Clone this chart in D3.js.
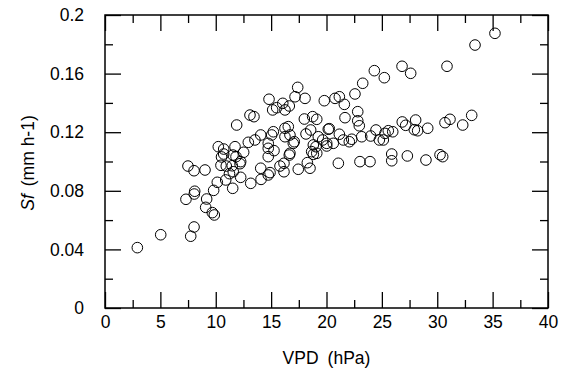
<!DOCTYPE html>
<html><head><meta charset="utf-8">
<script src="https://cdn.jsdelivr.net/npm/d3@7"></script>
<style>body{margin:0;background:#fff}svg{display:block}text{font-family:"Liberation Sans",Arial,sans-serif;fill:#000}</style>
</head><body><svg id="c" width="566" height="377"></svg>
<script>
const vpd = [2.92,5.03,7.74,8.04,7.31,8.10,8.06,9.18,9.09,9.69,9.87,9.81,10.14,7.49,8.04,9.03,11.53,10.90,11.24,12.25,13.16,14.09,14.06,14.90,14.74,15.80,16.16,17.45,18.51,18.27,16.16,10.47,10.95,11.49,12.19,11.58,
10.23,10.72,10.72,11.74,12.52,12.94,11.83,12.25,13.54,14.06,14.74,14.74,15.26,14.74,15.20,15.05,16.25,16.55,16.25,16.70,17.09,17.00,16.70,16.64,18.15,18.57,19.26,19.66,18.81,19.05,18.66,18.81,20.02,20.61,20.16,19.12,
11.89,13.09,13.45,14.81,15.14,15.50,16.05,16.64,16.25,17.40,17.16,18.06,18.00,18.75,19.12,19.80,20.77,21.16,21.61,22.82,21.67,22.82,22.96,22.57,23.27,24.32,25.22,26.82,27.60,30.88,33.41,35.21,
20.25,21.16,23.18,24.47,23.99,24.77,25.13,25.28,25.58,25.98,26.84,27.15,28.05,27.93,28.23,29.14,30.70,31.15,32.30,33.11,21.52,22.28,22.06,20.02,
21.07,23.02,23.93,25.89,25.89,27.30,28.98,30.25,30.49,10.52,11.56];
const sf = [0.0412,0.050,0.049,0.0553,0.0742,0.0797,0.0778,0.0744,0.0687,0.0651,0.0635,0.0803,0.0858,0.0969,0.0937,0.0942,0.0817,0.0874,0.0917,0.0892,0.0851,0.0878,0.0954,0.0924,0.0908,0.0969,0.0930,0.0947,0.0954,0.0992,0.0988,0.0974,0.0969,0.0971,0.0985,0.0930,
0.1101,0.1085,0.1051,0.1101,0.1063,0.1131,0.1033,0.0999,0.1147,0.1181,0.1124,0.1090,0.1074,0.1033,0.1203,0.1181,0.1227,0.1238,0.1169,0.1181,0.1135,0.1124,0.1056,0.1044,0.1188,0.1215,0.1169,0.1147,0.1113,0.1101,0.1067,0.1049,0.1124,0.1124,0.1220,0.1056,
0.1249,0.1317,0.1306,0.1425,0.1352,0.1367,0.1397,0.1379,0.1352,0.1506,0.1442,0.1431,0.1290,0.1306,0.1288,0.1415,0.1431,0.1442,0.1390,0.1340,0.1299,0.1278,0.1244,0.1461,0.1534,0.1620,0.1572,0.1650,0.1602,0.1650,0.1795,0.1875,
0.1224,0.1186,0.1169,0.1215,0.1174,0.1147,0.1147,0.1192,0.1210,0.1203,0.1270,0.1247,0.1283,0.1217,0.1210,0.1227,0.1265,0.1288,0.1249,0.1315,0.1147,0.1152,0.1135,0.1106,
0.0988,0.0999,0.0999,0.1051,0.1005,0.1038,0.1010,0.1046,0.1033,0.1031,0.1044];
const xTicks = [0,5,10,15,20,25,30,35,40];
const xMinor = [2.5,7.5,12.5,17.5,22.5,27.5,32.5,37.5];
const yTicks = [0,0.04,0.08,0.12,0.16,0.2];
const yTickLabels = ["0","0.04","0.08","0.12","0.16","0.2"];
const yMinor = [0.02,0.06,0.10,0.14,0.18];

const svg = d3.select("#c");
const L=105,R=548,T=15,B=308;
const x = d3.scaleLinear().domain([0,40]).range([L,R]);
const y = d3.scaleLinear().domain([0,0.2]).range([B,T]);
const fs = 17.5;

function style(g){g.select(".domain").remove();g.selectAll("line").attr("stroke","#000").attr("stroke-width",1.3);g.selectAll("text").attr("font-size",fs).attr("font-family","Liberation Sans, Arial, sans-serif");}

svg.append("g").attr("transform",`translate(0,${B})`).call(d3.axisBottom(x).tickValues(xTicks).tickSize(-16).tickPadding(8).tickFormat(d3.format("d"))).call(style);
svg.append("g").attr("transform",`translate(0,${B})`).call(d3.axisBottom(x).tickValues(xMinor).tickSize(-8).tickFormat("")).call(style);
svg.append("g").attr("transform",`translate(0,${T})`).call(d3.axisTop(x).tickValues(xTicks).tickSize(-16).tickFormat("")).call(style);
svg.append("g").attr("transform",`translate(0,${T})`).call(d3.axisTop(x).tickValues(xMinor).tickSize(-8).tickFormat("")).call(style);
svg.append("g").attr("transform",`translate(${L},0)`).call(d3.axisLeft(y).tickValues(yTicks).tickSize(-16).tickPadding(21).tickFormat((d,i)=>yTickLabels[i])).call(style);
svg.append("g").attr("transform",`translate(${L},0)`).call(d3.axisLeft(y).tickValues(yMinor).tickSize(-8).tickFormat("")).call(style);
svg.append("g").attr("transform",`translate(${R},0)`).call(d3.axisRight(y).tickValues(yTicks).tickSize(-16).tickFormat("")).call(style);
svg.append("g").attr("transform",`translate(${R},0)`).call(d3.axisRight(y).tickValues(yMinor).tickSize(-8).tickFormat("")).call(style);

svg.append("rect").attr("x",L).attr("y",T).attr("width",R-L).attr("height",B-T).attr("fill","none").attr("stroke","#000").attr("stroke-width",1.5);

svg.append("g").selectAll("circle").data(vpd.map((v,i)=>[v,sf[i]])).join("circle")
  .attr("cx",d=>x(d[0])).attr("cy",d=>y(d[1])).attr("r",5.3)
  .attr("fill","none").attr("stroke","#000").attr("stroke-width",1);

const xt = svg.append("text").attr("x",(L+R)/2).attr("y",364).attr("text-anchor","middle").attr("font-size",fs);
xt.append("tspan").text("VPD");
xt.append("tspan").attr("dx",9).text("(hPa)");

const yt = svg.append("text").attr("transform",`translate(34,163) rotate(-90)`).attr("text-anchor","middle").attr("font-size",fs);
yt.append("tspan").attr("font-style","italic").text("Sf");
yt.append("tspan").attr("dx",8).text("(mm h-1)");
</script></body></html>
